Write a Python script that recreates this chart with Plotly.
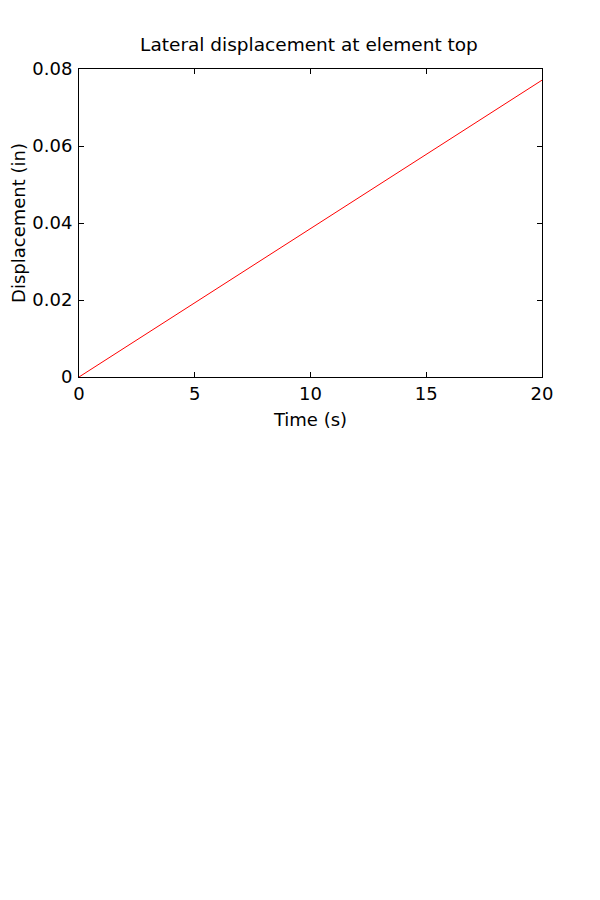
import plotly.graph_objects as go

time_s = [0, 5, 10, 15, 20]
displacement_in = [0.0, 0.0193, 0.0386, 0.0578, 0.0771]

x_ticks = [0, 5, 10, 15, 20]
y_ticks = [0, 0.02, 0.04, 0.06, 0.08]
y_tick_text = ["0", "0.02", "0.04", "0.06", "0.08"]

fig = go.Figure()
fig.add_trace(go.Scatter(x=time_s, y=displacement_in, mode="lines",
                         line=dict(color="#ff0000", width=1), showlegend=False))

font = dict(family="DejaVu Sans, Arial, sans-serif", color="black")
axis_common = dict(showgrid=False, zeroline=False, showline=True, linecolor="black",
                   linewidth=1, mirror="ticks", ticks="inside", ticklen=5,
                   tickcolor="black", tickfont=dict(size=18, **font), automargin=False)

fig.update_layout(
    width=600, height=900,
    paper_bgcolor="white", plot_bgcolor="white",
    margin=dict(l=71, r=66, t=61, b=531, autoexpand=False),
    title=dict(text="Lateral displacement at element top", x=301 / 600,
               xanchor="center", xref="container",
               y=1 - 37 / 900, yanchor="middle", font=dict(size=18.5, **font)),
    xaxis=dict(range=[0, 20], tickvals=x_ticks,
               title=dict(text="Time (s)", font=dict(size=18, **font), standoff=10),
               **axis_common),
    yaxis=dict(range=[0, 0.08], tickvals=y_ticks, ticktext=y_tick_text,
               ticklabelstandoff=2,
               title=dict(text="Displacement (in)", font=dict(size=18, **font), standoff=7),
               **axis_common),
)

fig.write_html("out.html")
